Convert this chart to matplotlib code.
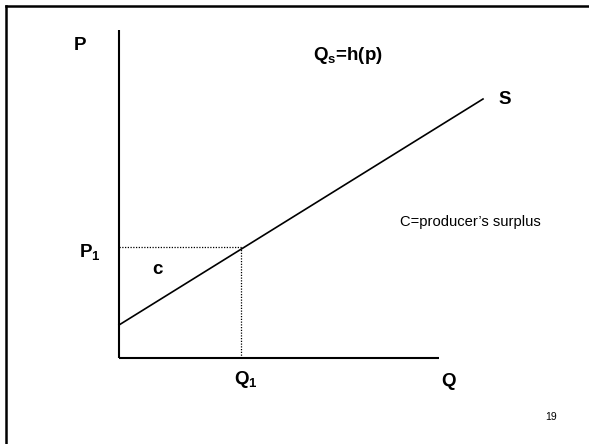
import matplotlib
matplotlib.use('Agg')
import matplotlib.pyplot as plt

plt.rcParams['font.family'] = ['Liberation Sans', 'DejaVu Sans']
plt.rcParams['mathtext.fontset'] = 'custom'
plt.rcParams['mathtext.bf'] = 'Liberation Sans:bold'
plt.rcParams['mathtext.rm'] = 'Liberation Sans:bold'
plt.rcParams['mathtext.default'] = 'bf'

# supply curve endpoints (Q, P), origin at the axes corner
supply_q = [0, 364]
supply_p = [33, 259]

# market point
q1 = 122
p1 = 111

p_axis_top = 328
q_axis_end = 320

fig = plt.figure(figsize=(5.89, 4.44), dpi=100)
ax = fig.add_axes([0, 0, 1, 1])
# map data to the slide: origin at pixel (119, 358)
ax.set_xlim(-119, 470)
ax.set_ylim(-86, 358)
ax.axis('off')

# axes lines
ax.plot([0, 0], [0, p_axis_top], color='black', lw=1.5, solid_capstyle='butt')
ax.plot([0, q_axis_end], [0, 0], color='black', lw=1.5, solid_capstyle='butt')

# supply curve
ax.plot(supply_q, supply_p, color='black', lw=1.2)

# dotted guides
ax.plot([0, q1], [p1, p1], color='black', lw=0.9, ls=(0, (1, 1.2)))
ax.plot([q1, q1], [0, p1], color='black', lw=0.9, ls=(0, (1, 1.2)))

# labels
fs = 13.5
ax.text(-39, 313, 'P', fontsize=fs, fontweight='bold', ha='center', va='center')
ax.text(-29, 106, '$P_1$', fontsize=fs, ha='center', va='center')
ax.text(38, 88, 'c', fontsize=fs, fontweight='bold', ha='center', va='center')
ax.text(q1 + 5, -21, '$Q_1$', fontsize=fs, ha='center', va='center')
ax.text(329, -23, 'Q', fontsize=fs, fontweight='bold', ha='center', va='center')
ax.text(386, 258, 'S', fontsize=fs, fontweight='bold', ha='center', va='center')
ax.text(229, 303, '$Q_s$=h(p)', fontsize=fs, fontweight='bold', ha='center', va='center')
ax.text(281, 136, 'C=producer\u2019s surplus', fontsize=10.6, ha='left', va='center')
ax.text(432, -59, '19', fontsize=7.5, ha='center', va='center')

# slide frame (top and left edges)
fig.add_artist(plt.Line2D([6 / 589, 6 / 589], [0, 1 - 6 / 444], transform=fig.transFigure,
                          color='black', lw=1.8))
fig.add_artist(plt.Line2D([6 / 589, 1], [1 - 6 / 444, 1 - 6 / 444], transform=fig.transFigure,
                          color='black', lw=1.8))

fig.savefig('out.png', dpi=100)
